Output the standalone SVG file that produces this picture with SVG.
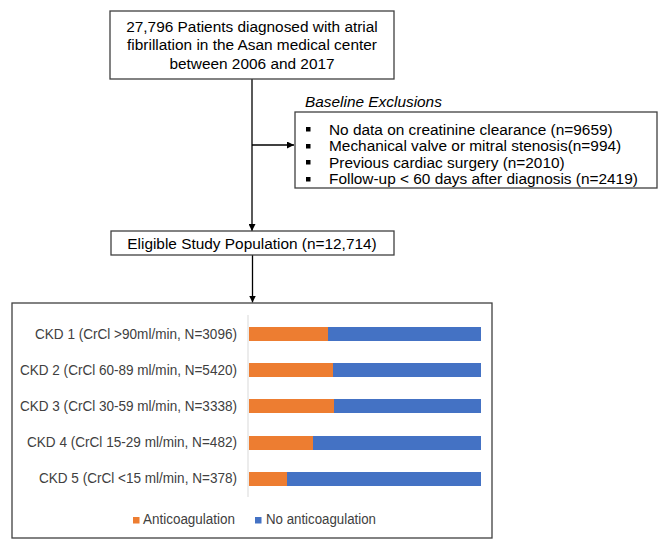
<svg xmlns="http://www.w3.org/2000/svg" width="669" height="545" viewBox="0 0 669 545">
<style>
.box{fill:#fff;stroke:#404040;stroke-width:1.3}
.t{font-family:"Liberation Sans",Arial,sans-serif;font-size:15.4px;fill:#000}
.c{font-family:"Liberation Sans",Arial,sans-serif;font-size:14px;fill:#404040}
.ln{stroke:#000;stroke-width:1.3;fill:none}
.o{fill:#ED7D31}.b{fill:#4472C4}
</style>
<defs>
<marker id="ah" viewBox="0 0 10 10" refX="10" refY="5" markerWidth="7" markerHeight="7" markerUnits="userSpaceOnUse" orient="auto"><path d="M0,0L10,5L0,10z" fill="#000"/></marker>
</defs>
<rect width="669" height="545" fill="#fff"/>
<g id="connectors">
<line class="ln" x1="252" y1="79" x2="252" y2="231" marker-end="url(#ah)"/>
<line class="ln" x1="252" y1="145" x2="294" y2="145" marker-end="url(#ah)"/>
<line class="ln" x1="252.5" y1="255" x2="252.5" y2="302.5" marker-end="url(#ah)"/>
</g>
<g id="patients">
<rect class="box" x="110" y="11" width="284" height="68"/>
<text class="t" text-anchor="middle" x="252" y="32">27,796 Patients diagnosed with atrial</text>
<text class="t" text-anchor="middle" x="252" y="50">fibrillation in the Asan medical center</text>
<text class="t" text-anchor="middle" x="252" y="69">between 2006 and 2017</text>
</g>
<g id="exclusions">
<text class="t" x="305" y="107" font-style="italic">Baseline Exclusions</text>
<rect class="box" x="295" y="112" width="362" height="76"/>
<rect x="306" y="127" width="4.5" height="4.5" fill="#000"/>
<rect x="306" y="144" width="4.5" height="4.5" fill="#000"/>
<rect x="306" y="160" width="4.5" height="4.5" fill="#000"/>
<rect x="306" y="177" width="4.5" height="4.5" fill="#000"/>
<text class="t" x="329" y="135">No data on creatinine clearance (n=9659)</text>
<text class="t" x="329" y="151">Mechanical valve or mitral stenosis(n=994)</text>
<text class="t" x="329" y="168">Previous cardiac surgery (n=2010)</text>
<text class="t" x="329" y="184">Follow-up &lt; 60 days after diagnosis (n=2419)</text>
</g>
<g id="eligible">
<rect class="box" x="111" y="231" width="283" height="24"/>
<text class="t" text-anchor="middle" x="252" y="248.5">Eligible Study Population (n=12,714)</text>
</g>
<g id="chart">
<rect class="box" x="12" y="303" width="480" height="235"/>
<line x1="248" y1="315" x2="248" y2="497" stroke="#d9d9d9" stroke-width="1"/>
<rect class="o" x="249" y="327" width="79" height="14"/><rect class="b" x="328" y="327" width="153" height="14"/>
<rect class="o" x="249" y="363" width="84" height="14"/><rect class="b" x="333" y="363" width="148" height="14"/>
<rect class="o" x="249" y="399" width="85" height="14"/><rect class="b" x="334" y="399" width="147" height="14"/>
<rect class="o" x="249" y="436" width="64" height="14"/><rect class="b" x="313" y="436" width="168" height="14"/>
<rect class="o" x="249" y="472" width="38" height="14"/><rect class="b" x="287" y="472" width="194" height="14"/>
<text class="c" x="35" y="339" textLength="202" lengthAdjust="spacingAndGlyphs">CKD 1 (CrCl &gt;90ml/min, N=3096)</text>
<text class="c" x="20" y="375" textLength="217" lengthAdjust="spacingAndGlyphs">CKD 2 (CrCl 60-89 ml/min, N=5420)</text>
<text class="c" x="20" y="411" textLength="217" lengthAdjust="spacingAndGlyphs">CKD 3 (CrCl 30-59 ml/min, N=3338)</text>
<text class="c" x="27" y="447" textLength="210" lengthAdjust="spacingAndGlyphs">CKD 4 (CrCl 15-29 ml/min, N=482)</text>
<text class="c" x="39" y="483" textLength="198" lengthAdjust="spacingAndGlyphs">CKD 5 (CrCl &lt;15 ml/min, N=378)</text>
<rect class="o" x="133" y="517" width="6.5" height="6.5"/>
<text class="c" x="143" y="524" textLength="92" lengthAdjust="spacingAndGlyphs">Anticoagulation</text>
<rect class="b" x="255" y="517" width="6.5" height="6.5"/>
<text class="c" x="266" y="524" textLength="110" lengthAdjust="spacingAndGlyphs">No anticoagulation</text>
</g>
</svg>
